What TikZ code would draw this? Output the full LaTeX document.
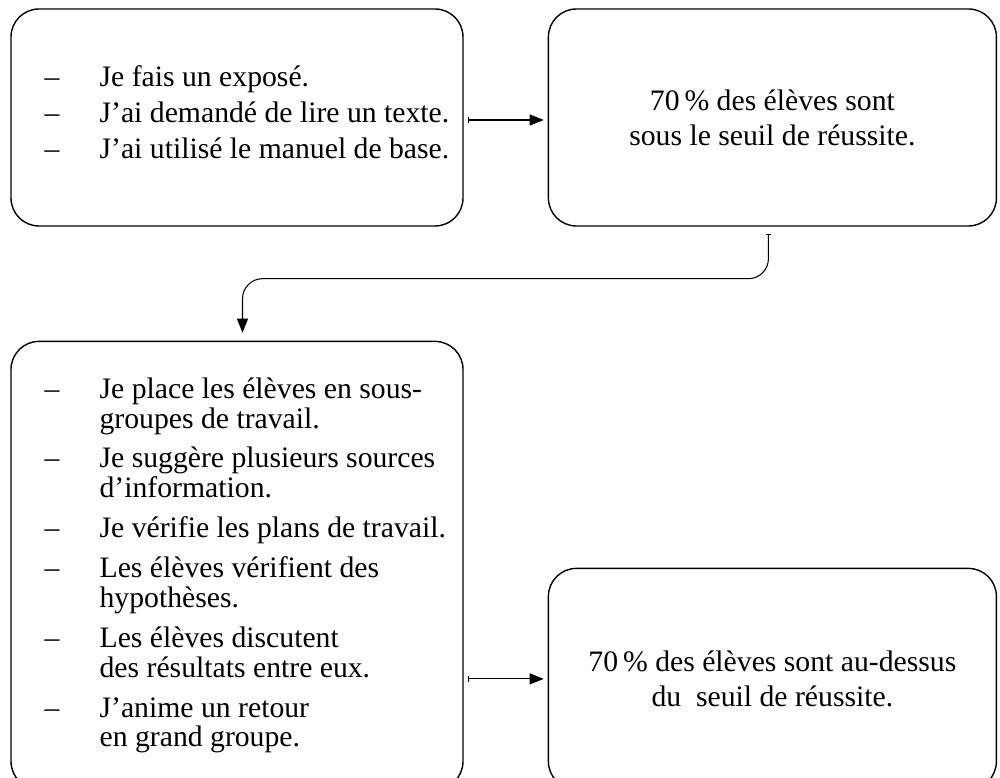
\documentclass[tikz,border=0pt]{standalone}
\usepackage{fontspec}
\setmainfont{Liberation Serif}
\usetikzlibrary{positioning, arrows.meta, calc}

\newcommand{\itemline}[1]{\makebox[1.1cm][l]{--}#1}
\newcommand{\contline}[1]{\hspace*{1.1cm}#1}

\begin{document}
\begin{tikzpicture}[
        box/.style={draw, line width=0.8pt, rounded corners=0.56cm, inner sep=0pt},
        listtext/.style={align=left, inner sep=0pt, font=\fontsize{16.9}{17}\selectfont},
        centertext/.style={align=center, font=\fontsize{16.9}{19.9}\selectfont},
        conn/.style={line width=0.6pt, {Bar[width=3pt,line width=0.5pt]}-{Triangle[length=0.28cm,width=0.22cm]}},
    ]
        \useasboundingbox (0,0) rectangle (20,15.56);
        \clip (0,0) rectangle (20,15.56);

        % top row
        \node[box, minimum width=9.04cm, minimum height=4.34cm] (box1) at (4.74,13.21) {};
        \node[box, centertext, minimum width=8.96cm, minimum height=4.34cm,
            right=1.68cm of box1] (box2)
            {70\,\% des élèves sont\\sous le seuil de réussite.};

        % bottom row
        \node[box, minimum width=9.04cm, minimum height=8.96cm,
            below=2.28cm of box1] (box3) {};
        \node[box, centertext, minimum width=8.96cm, minimum height=4.42cm,
            anchor=south west] (box4) at ([xshift=1.68cm]box3.south east)
            {70\,\% des élèves sont au-dessus\\du\ \ seuil de réussite.};

        \node[listtext, anchor=west] (list1) at ([xshift=0.68cm,yshift=0.11cm]box1.west)
            {\itemline{Je fais un exposé.}\\[0.12cm]
             \itemline{J’ai demandé de lire un texte.}\\[0.12cm]
             \itemline{J’ai utilisé le manuel de base.}};

        \node[listtext, anchor=west] (list3) at ([xshift=0.68cm]box3.west)
            {\itemline{Je place les élèves en sous-}\\
             \contline{groupes de travail.}\\[0.2cm]
             \itemline{Je suggère plusieurs sources}\\
             \contline{d’information.}\\[0.2cm]
             \itemline{Je vérifie les plans de travail.}\\[0.2cm]
             \itemline{Les élèves vérifient des}\\
             \contline{hypothèses.}\\[0.2cm]
             \itemline{Les élèves discutent}\\
             \contline{des résultats entre eux.}\\[0.2cm]
             \itemline{J’anime un retour}\\
             \contline{en grand groupe.}};

        % connectors
        \coordinate (turn) at ([yshift=-1.04cm]box2.south);
        \draw[conn] ([xshift=0.08cm,yshift=-0.05cm]box1.east) -- ([xshift=-0.08cm,yshift=-0.05cm]box2.west);
        \draw[conn, rounded corners=0.4cm]
            ([xshift=-0.08cm,yshift=-0.14cm]box2.south) |- ([xshift=0.11cm]turn -| box3.north)
            -- ([xshift=0.11cm,yshift=0.16cm]box3.north);
        \draw[conn] ([xshift=0.08cm]box3.east |- box4.west) -- ([xshift=-0.08cm]box4.west);
\end{tikzpicture}
\end{document}
